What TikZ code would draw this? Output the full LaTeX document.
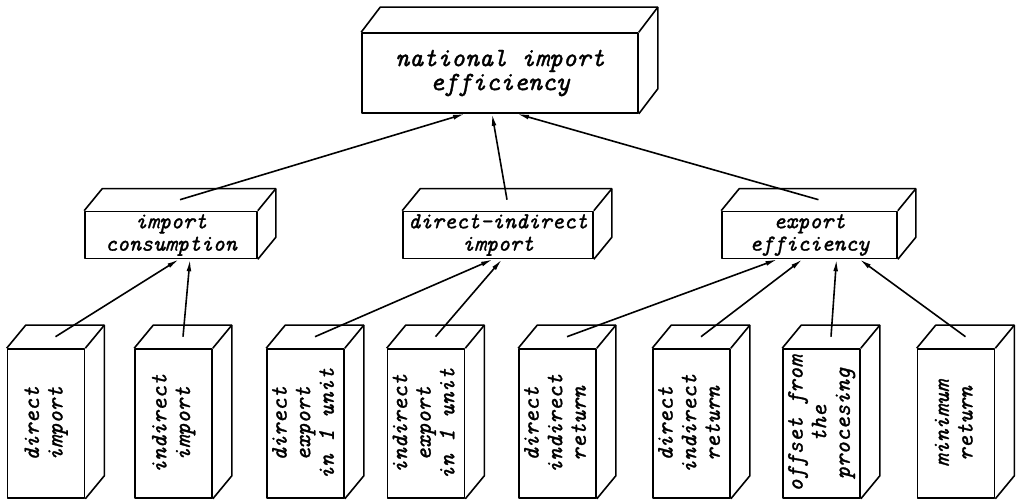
\documentclass[tikz,border=0pt]{standalone}
\usepackage{fontspec}
\usepackage{graphicx}
\usetikzlibrary{arrows.meta,calc}

\newfontfamily\boxfont{Latin Modern Mono}[FakeBold=1.2]
\tikzset{
  face/.style={draw, rectangle, inner sep=0pt, align=center},
  topface/.style={face, minimum width=138pt, minimum height=40pt,
    font=\boxfont\itshape\fontsize{13.3}{12}\selectfont},
  midface/.style={face, minimum height=23.5pt,
    font=\boxfont\itshape\fontsize{11.4}{11.2}\selectfont},
  lowface/.style={face, minimum width=38.5pt, minimum height=74.5pt,
    font=\boxfont\itshape\fontsize{11.8}{11.8}\selectfont},
  link/.style={-{Latex[length=6pt,width=2.4pt]}},
}
\newcommand{\sidetext}[1]{\rotatebox{90}{\begin{tabular}{@{}c@{}}#1\end{tabular}}}

\begin{document}
\begin{tikzpicture}[x=0.5pt,y=-0.5pt,line width=0.8pt,line join=round]
    \useasboundingbox (0,0) rectangle (1021,501);
    % Draw the front faces
    \node[topface] (nie) at (500,73) {national import\\efficiency};
    \node[midface,minimum width=86pt] (ic) at (171,235) {import\\consumption};
    \node[midface,minimum width=95pt] (dii) at (498,235) {direct-indirect\\import};
    \node[midface,minimum width=87.5pt] (ee) at (809.5,235) {export\\efficiency};
    \node[lowface] (di) at (46,423.5) {\sidetext{direct\\import}};
    \node[lowface] (ii) at (173.5,423.5) {\sidetext{indirect\\import}};
    \node[lowface] (dex) at (305.5,423.5) {\sidetext{direct\\export\\in 1 unit}};
    \node[lowface] (iex) at (426,423.5) {\sidetext{indirect\\export\\in 1 unit}};
    \node[lowface] (dr) at (557.5,423.5) {\sidetext{direct\\indirect\\return}};
    \node[lowface] (ir) at (691.5,423.5) {\sidetext{direct\\indirect\\return}};
    \node[lowface] (off) at (821.5,423.5) {\sidetext{offset from\\the\\procesing}};
    \node[lowface] (mr) at (956,423.5) {\sidetext{minimum\\return}};

    % Draw the top and side of each block
    \foreach \n/\dx/\dy in {nie/19/-25, ic/18/-22, dii/18/-22, ee/18/-22,
        di/19/-23, ii/19/-23, dex/19/-23, iex/19/-23,
        dr/19/-23, ir/19/-23, off/19/-23, mr/19/-23} {
      \draw (\n.north west) -- ++(\dx,\dy) -- ($(\n.north east)+(\dx,\dy)$)
        -- ($(\n.south east)+(\dx,\dy)$) -- (\n.south east);
      \draw (\n.north east) -- ++(\dx,\dy);
      \coordinate (\n-top) at ($(\n.north)+(0.5*\dx,0.5*\dy)$);
    }

    % Draw the links
    \draw[link] (ic-top) -- ($(nie.south)+(-35,0)$);
    \draw[link] (dii-top) -- ($(nie.south)+(-8,0)$);
    \draw[link] (ee-top) -- ($(nie.south)+(17,0)$);
    \draw[link] (di-top) -- ($(ic.south)+(8,0)$);
    \draw[link] (ii-top) -- ($(ic.south)+(19,0)$);
    \draw[link] (dex-top) -- ($(dii.south)+(-5,0)$);
    \draw[link] (iex-top) -- ($(dii.south)+(4,0)$);
    \draw[link] (dr-top) -- ($(ee.south)+(-32,0)$);
    \draw[link] (ir-top) -- ($(ee.south)+(-7,0)$);
    \draw[link] (off-top) -- ($(ee.south)+(27,0)$);
    \draw[link] (mr-top) -- ($(ee.south)+(50,0)$);
\end{tikzpicture}
\end{document}
